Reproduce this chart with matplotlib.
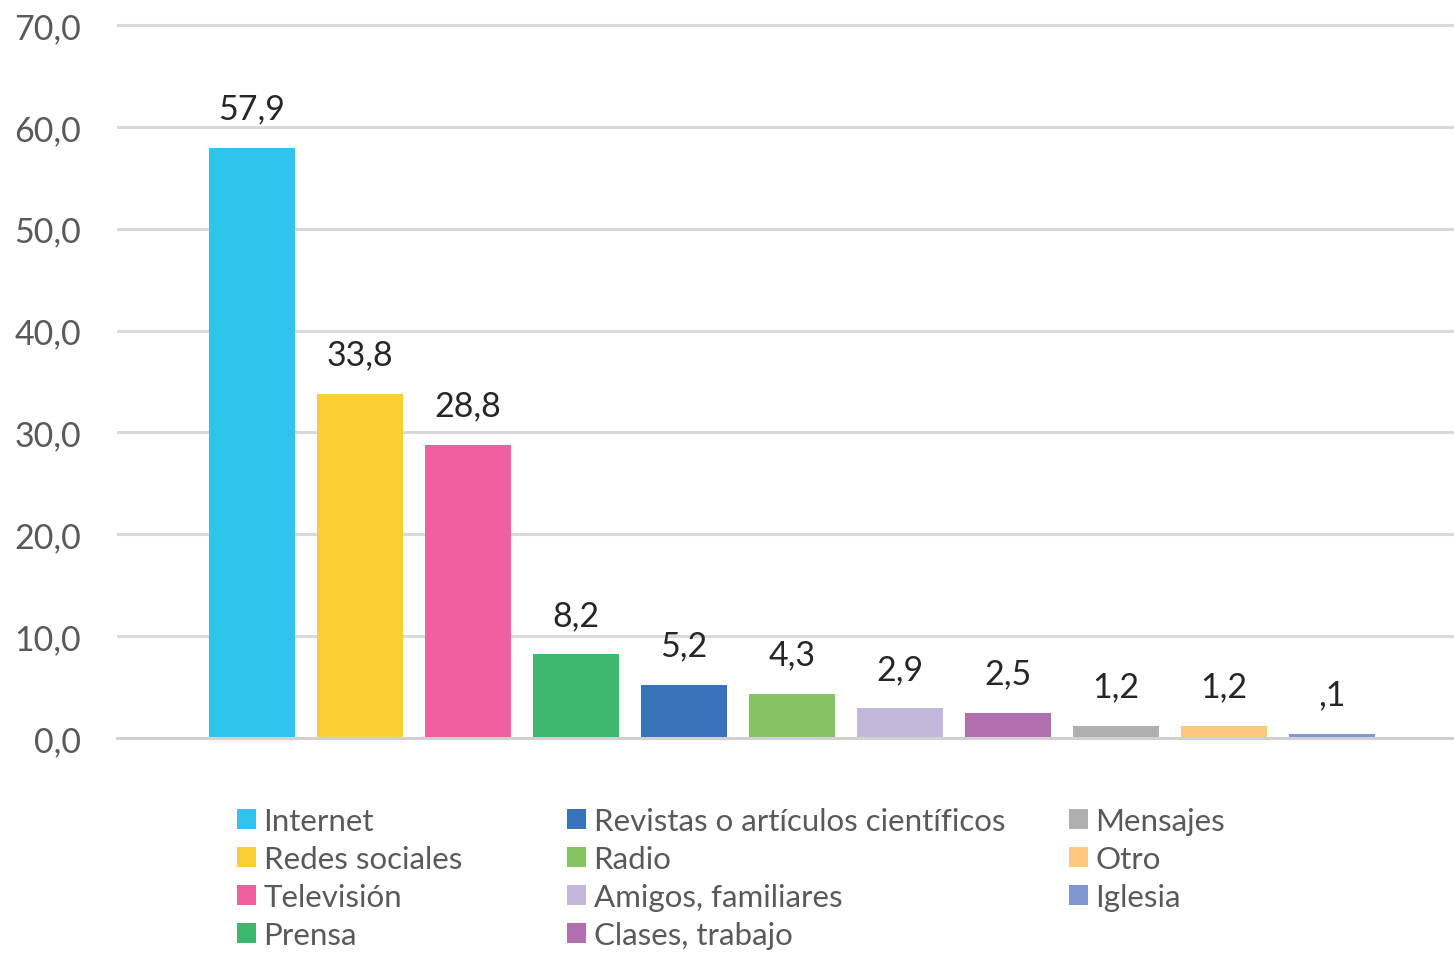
import matplotlib
matplotlib.use("Agg")
import matplotlib.pyplot as plt

categories = ["Internet", "Redes sociales", "Televisión", "Prensa",
              "Revistas o artículos científicos", "Radio", "Amigos, familiares",
              "Clases, trabajo", "Mensajes", "Otro", "Iglesia"]
values = [57.9, 33.8, 28.8, 8.2, 5.2, 4.3, 2.9, 2.5, 1.2, 1.2, 0.4]
value_labels = ["57,9", "33,8", "28,8", "8,2", "5,2", "4,3", "2,9", "2,5", "1,2", "1,2", ",1"]
colors = ["#2EC4EE", "#FCD034", "#F05FA0", "#3DB86D", "#3A72B9", "#84C562",
          "#C3B8DA", "#B26FAE", "#AEB0B0", "#FEC97F", "#7F98D0"]
yticks = [0, 10, 20, 30, 40, 50, 60, 70]
ytick_labels = ["0,0", "10,0", "20,0", "30,0", "40,0", "50,0", "60,0", "70,0"]

plt.rcParams['font.family'] = ['Lato', 'DejaVu Sans']

W, H = 1454, 954
fig = plt.figure(figsize=(W / 100, H / 100), dpi=100)
ppu = (739 - 26) / 70.0
top_px = 26 - 0.3 * ppu
ax = fig.add_axes([117 / W, 1 - 739 / H, 1 - 117 / W, (739 - top_px) / H])

x = list(range(len(categories)))
bars = ax.bar(x, values, width=0.8, color=colors, zorder=3)
ax.bar_label(bars, labels=value_labels, padding=17, fontsize=24.5, color="#262626")

ax.set_xlim(-1.25, 11.13)
ax.set_ylim(0, 70.3)
ax.set_yticks(yticks)
ax.set_yticklabels(ytick_labels, fontsize=24.5, color="#595959")
ax.tick_params(axis='y', length=0, pad=26)
ax.set_xticks([])
ax.yaxis.grid(True, color="#D9D9D9", linewidth=2.2, zorder=0)
for s in ["top", "right", "left"]:
    ax.spines[s].set_visible(False)
ax.spines["bottom"].set_color("#D0D0D0")
ax.spines["bottom"].set_linewidth(2.2)
ax.spines["bottom"].set_zorder(4)

patches = list(bars.patches)
groups = [(0, 4, 237), (4, 8, 567), (8, 11, 1069)]
for start, end, xpx in groups:
    leg = fig.legend(patches[start:end], categories[start:end],
                     loc="upper left", bbox_to_anchor=(xpx / W, 1 - 808 / H),
                     frameon=False, fontsize=22.5, labelcolor="#595959",
                     handlelength=0.6, handleheight=0.6, handletextpad=0.25,
                     labelspacing=0.32, borderpad=0, borderaxespad=0)

fig.savefig("out.png", dpi=100)
